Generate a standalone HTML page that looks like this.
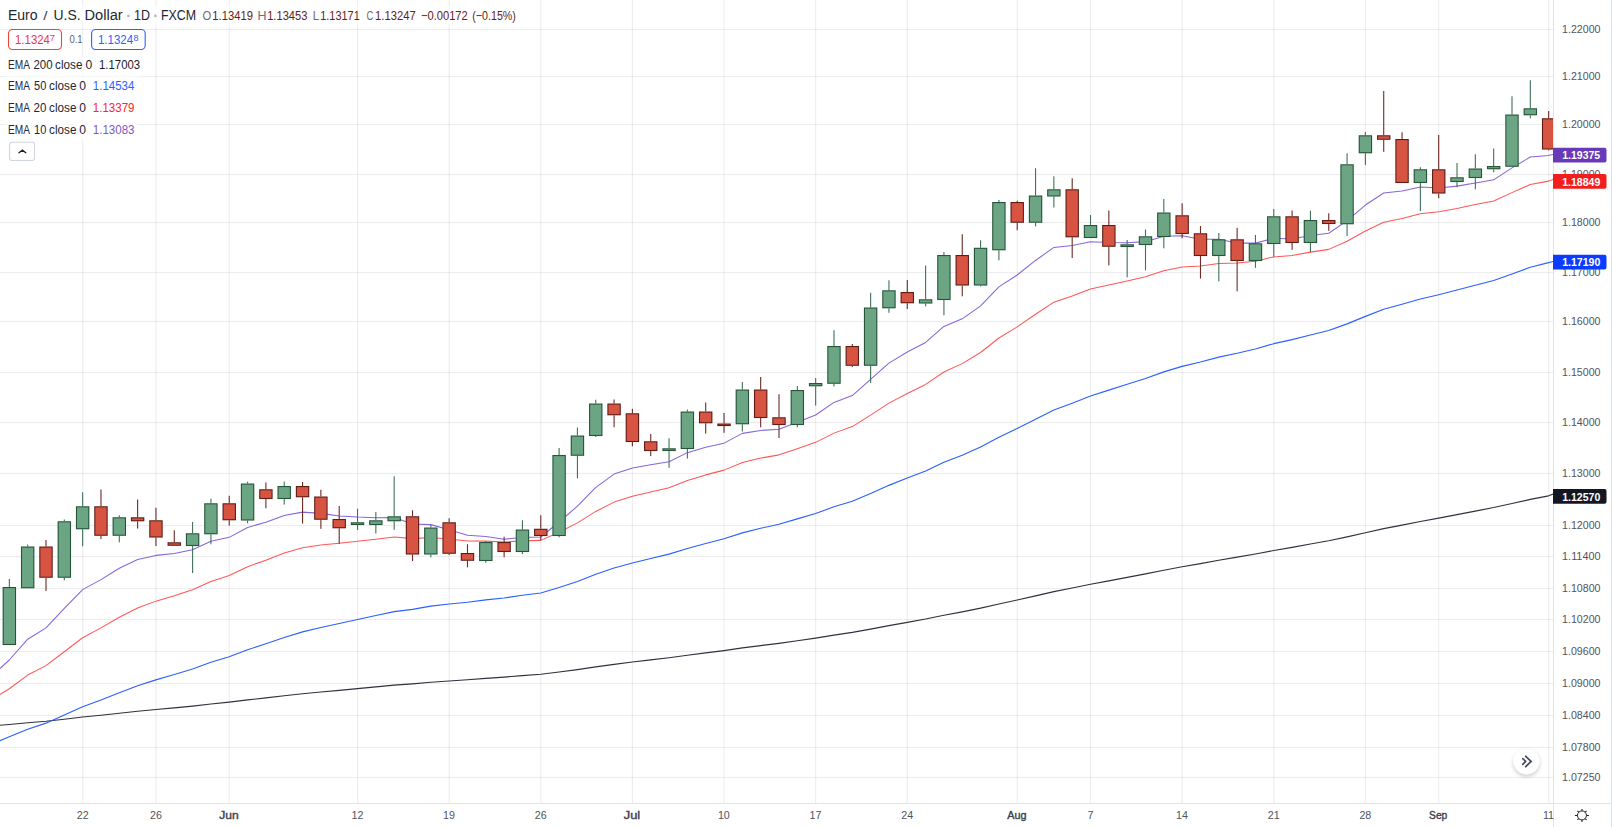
<!DOCTYPE html>
<html lang="en"><head><meta charset="utf-8"><title>Euro / U.S. Dollar</title>
<style>html,body{margin:0;padding:0;background:#fff;overflow:hidden}svg{display:block}text{font-family:"Liberation Sans",sans-serif}</style>
</head><body>
<svg width="1612" height="827" viewBox="0 0 1612 827">
<rect width="1612" height="827" fill="#fff"/>
<g fill="rgba(42,46,67,0.085)">
<rect x="0" y="28.95" width="1553" height="1.1"/>
<rect x="0" y="75.95" width="1553" height="1.1"/>
<rect x="0" y="123.95" width="1553" height="1.1"/>
<rect x="0" y="173.95" width="1553" height="1.1"/>
<rect x="0" y="221.95" width="1553" height="1.1"/>
<rect x="0" y="271.95" width="1553" height="1.1"/>
<rect x="0" y="320.95" width="1553" height="1.1"/>
<rect x="0" y="371.95" width="1553" height="1.1"/>
<rect x="0" y="421.95" width="1553" height="1.1"/>
<rect x="0" y="472.95" width="1553" height="1.1"/>
<rect x="0" y="524.95" width="1553" height="1.1"/>
<rect x="0" y="555.95" width="1553" height="1.1"/>
<rect x="0" y="587.95" width="1553" height="1.1"/>
<rect x="0" y="618.95" width="1553" height="1.1"/>
<rect x="0" y="650.95" width="1553" height="1.1"/>
<rect x="0" y="682.95" width="1553" height="1.1"/>
<rect x="0" y="714.95" width="1553" height="1.1"/>
<rect x="0" y="746.95" width="1553" height="1.1"/>
<rect x="0" y="776.95" width="1553" height="1.1"/>
<rect x="82.10" y="0" width="1.1" height="803"/>
<rect x="155.40" y="0" width="1.1" height="803"/>
<rect x="228.70" y="0" width="1.1" height="803"/>
<rect x="356.98" y="0" width="1.1" height="803"/>
<rect x="448.60" y="0" width="1.1" height="803"/>
<rect x="540.23" y="0" width="1.1" height="803"/>
<rect x="631.85" y="0" width="1.1" height="803"/>
<rect x="723.48" y="0" width="1.1" height="803"/>
<rect x="815.10" y="0" width="1.1" height="803"/>
<rect x="906.73" y="0" width="1.1" height="803"/>
<rect x="1016.68" y="0" width="1.1" height="803"/>
<rect x="1089.97" y="0" width="1.1" height="803"/>
<rect x="1181.60" y="0" width="1.1" height="803"/>
<rect x="1273.22" y="0" width="1.1" height="803"/>
<rect x="1364.85" y="0" width="1.1" height="803"/>
<rect x="1438.15" y="0" width="1.1" height="803"/>
<rect x="1548.10" y="0" width="1.1" height="803"/>
</g>
<defs><clipPath id="cp"><rect x="0" y="0" width="1553" height="803"/></clipPath></defs>
<g clip-path="url(#cp)">
<polyline points="-0.5,725.30 9.3,724.50 27.7,722.70 46.0,721.23 64.3,719.21 82.6,717.05 101.0,715.21 119.3,713.21 137.6,711.26 155.9,709.50 174.3,707.84 192.6,706.07 210.9,704.02 229.2,702.15 247.6,699.94 265.9,697.90 284.2,695.75 302.6,693.73 320.9,691.97 339.2,690.31 357.5,688.61 375.9,686.91 394.2,685.19 412.5,683.87 430.8,682.29 449.1,680.99 467.5,679.77 485.8,678.39 504.1,677.11 522.5,675.62 540.8,674.21 559.1,671.98 577.4,669.58 595.8,666.87 614.1,664.31 632.4,662.05 650.7,659.90 669.0,657.75 687.4,655.25 705.7,652.89 724.0,650.58 742.4,647.92 760.7,645.58 779.0,643.34 797.3,640.76 815.6,638.14 834.0,635.16 852.3,632.41 870.6,629.08 888.9,625.61 907.3,622.31 925.6,619.00 943.9,615.27 962.2,611.88 980.6,608.15 998.9,603.96 1017.2,600.03 1035.5,595.87 1053.9,591.68 1072.2,588.03 1090.5,584.31 1108.8,580.84 1127.2,577.40 1145.5,573.90 1163.8,570.19 1182.1,566.74 1200.5,563.56 1218.8,560.24 1237.1,557.18 1255.4,553.97 1273.8,550.51 1292.1,547.36 1310.4,544.01 1328.7,540.73 1347.1,536.86 1365.4,532.72 1383.7,528.67 1402.0,525.12 1420.4,521.47 1438.7,518.11 1457.0,514.61 1475.3,511.07 1493.7,507.53 1512.0,503.49 1530.3,499.42 1548.6,495.82 1553.5,494.00" fill="none" stroke="#2e323d" stroke-width="1.15" stroke-opacity="1" stroke-linejoin="round"/>
<polyline points="-0.5,740.90 9.3,736.75 27.7,729.17 46.0,723.13 64.3,715.08 82.6,706.74 101.0,699.91 119.3,692.64 137.6,685.79 155.9,679.88 174.3,674.53 192.6,668.92 210.9,662.33 229.2,656.67 247.6,649.78 265.9,643.76 284.2,637.49 302.6,631.90 320.9,627.43 339.2,623.48 357.5,619.47 375.9,615.55 394.2,611.62 412.5,609.34 430.8,606.11 449.1,604.02 467.5,602.29 485.8,599.91 504.1,598.00 522.5,595.29 540.8,592.93 559.1,587.46 577.4,581.42 595.8,574.34 614.1,567.99 632.4,562.97 650.7,558.50 669.0,554.14 687.4,548.48 705.7,543.49 724.0,538.81 742.4,532.88 760.7,528.30 779.0,524.18 797.3,518.86 815.6,513.48 834.0,506.82 852.3,501.19 870.6,493.47 888.9,485.37 907.3,478.08 925.6,470.97 943.9,462.34 962.2,455.28 980.6,447.00 998.9,437.19 1017.2,428.60 1035.5,419.28 1053.9,410.09 1072.2,403.18 1090.5,396.09 1108.8,390.13 1127.2,384.34 1145.5,378.46 1163.8,371.86 1182.1,366.36 1200.5,361.97 1218.8,357.10 1237.1,353.27 1255.4,348.92 1273.8,343.66 1292.1,339.65 1310.4,334.91 1328.7,330.49 1347.1,323.88 1365.4,316.37 1383.7,309.31 1402.0,304.27 1420.4,298.92 1438.7,294.72 1457.0,290.07 1475.3,285.25 1493.7,280.53 1512.0,273.93 1530.3,267.34 1548.6,262.64 1553.5,261.40" fill="none" stroke="#1f57ff" stroke-width="1.1" stroke-opacity="0.95" stroke-linejoin="round"/>
<polyline points="-0.5,694.70 9.3,688.75 27.7,675.05 46.0,665.64 64.3,651.73 82.6,637.72 101.0,627.86 119.3,617.23 137.6,607.95 155.9,601.13 174.3,595.76 192.6,589.78 210.9,581.48 229.2,575.55 247.6,566.72 265.9,560.17 284.2,553.06 302.6,547.65 320.9,544.92 339.2,543.25 357.5,541.25 375.9,539.25 394.2,537.05 412.5,538.64 430.8,537.58 449.1,539.05 467.5,541.04 485.8,541.13 504.1,542.09 522.5,540.89 540.8,540.36 559.1,532.17 577.4,522.90 595.8,511.42 614.1,502.12 632.4,496.29 650.7,491.89 669.0,487.72 687.4,480.42 705.7,474.88 724.0,470.13 742.4,462.41 760.7,458.09 779.0,454.86 797.3,448.65 815.6,442.37 834.0,433.12 852.3,426.60 870.6,415.15 888.9,403.14 907.3,393.48 925.6,384.44 943.9,371.98 962.2,363.62 980.6,352.48 998.9,337.98 1017.2,326.84 1035.5,314.20 1053.9,302.18 1072.2,295.90 1090.5,289.11 1108.8,284.99 1127.2,281.09 1145.5,276.81 1163.8,270.65 1182.1,267.08 1200.5,265.95 1218.8,263.40 1237.1,263.10 1255.4,261.21 1273.8,256.91 1292.1,255.52 1310.4,252.12 1328.7,249.37 1347.1,241.21 1365.4,231.03 1383.7,222.20 1402.0,218.39 1420.4,213.69 1438.7,211.69 1457.0,208.40 1475.3,204.59 1493.7,200.90 1512.0,192.62 1530.3,184.53 1548.6,181.11 1553.5,179.30" fill="none" stroke="#ff3a3a" stroke-width="1.05" stroke-opacity="0.85" stroke-linejoin="round"/>
<polyline points="-0.5,669.00 9.3,660.00 27.7,639.20 46.0,627.84 64.3,608.31 82.6,589.62 101.0,579.65 119.3,568.26 137.6,559.54 155.9,555.39 174.3,553.50 192.6,549.81 210.9,541.32 229.2,537.35 247.6,527.52 265.9,522.19 284.2,515.59 302.6,512.11 320.9,513.37 339.2,515.93 357.5,517.08 375.9,517.66 394.2,517.40 412.5,523.99 430.8,524.63 449.1,529.78 467.5,535.26 485.8,536.49 504.1,539.17 522.5,537.41 540.8,537.02 559.1,522.02 577.4,506.19 595.8,487.38 614.1,474.06 632.4,468.08 650.7,464.84 669.0,461.82 687.4,452.64 705.7,447.15 724.0,443.16 742.4,433.37 760.7,430.43 779.0,429.31 797.3,422.14 815.6,415.00 834.0,402.40 852.3,395.58 870.6,379.47 888.9,363.14 907.3,352.07 925.6,342.43 943.9,326.44 962.2,318.83 980.6,305.84 998.9,286.83 1017.2,274.98 1035.5,260.45 1053.9,247.44 1072.2,245.45 1090.5,241.73 1108.8,242.50 1127.2,242.82 1145.5,241.63 1163.8,236.32 1182.1,235.76 1200.5,239.30 1218.8,239.29 1237.1,243.10 1255.4,243.12 1273.8,238.23 1292.1,238.96 1310.4,235.51 1328.7,233.28 1347.1,220.67 1365.4,205.04 1383.7,192.98 1402.0,191.03 1420.4,187.06 1438.7,188.09 1457.0,186.12 1475.3,182.91 1493.7,179.83 1512.0,167.90 1530.3,157.01 1548.6,155.51 1553.5,154.40" fill="none" stroke="#7d58d6" stroke-width="1.05" stroke-opacity="0.92" stroke-linejoin="round"/>
<rect x="8.80" y="579.00" width="1.1" height="8.00" fill="#41715a"/>
<rect x="2.63" y="587.00" width="13.44" height="58.05" fill="#25563a"/>
<rect x="3.73" y="588.10" width="11.24" height="55.85" fill="#6ba583"/>
<rect x="27.12" y="544.50" width="1.1" height="2.00" fill="#41715a"/>
<rect x="20.95" y="546.50" width="13.44" height="41.80" fill="#25563a"/>
<rect x="22.05" y="547.60" width="11.24" height="39.60" fill="#6ba583"/>
<rect x="45.45" y="540.00" width="1.1" height="6.50" fill="#6f2a25"/>
<rect x="45.45" y="577.80" width="1.1" height="13.25" fill="#6f2a25"/>
<rect x="39.28" y="546.50" width="13.44" height="31.30" fill="#5f1d16"/>
<rect x="40.38" y="547.60" width="11.24" height="29.10" fill="#d75442"/>
<rect x="63.77" y="519.50" width="1.1" height="1.75" fill="#41715a"/>
<rect x="63.77" y="577.80" width="1.1" height="2.50" fill="#41715a"/>
<rect x="57.60" y="521.25" width="13.44" height="56.55" fill="#25563a"/>
<rect x="58.70" y="522.35" width="11.24" height="54.35" fill="#6ba583"/>
<rect x="82.10" y="492.25" width="1.1" height="14.00" fill="#41715a"/>
<rect x="82.10" y="529.30" width="1.1" height="17.00" fill="#41715a"/>
<rect x="75.93" y="506.25" width="13.44" height="23.05" fill="#25563a"/>
<rect x="77.03" y="507.35" width="11.24" height="20.85" fill="#6ba583"/>
<rect x="100.42" y="489.50" width="1.1" height="16.75" fill="#6f2a25"/>
<rect x="100.42" y="535.80" width="1.1" height="3.25" fill="#6f2a25"/>
<rect x="94.25" y="506.25" width="13.44" height="29.55" fill="#5f1d16"/>
<rect x="95.35" y="507.35" width="11.24" height="27.35" fill="#d75442"/>
<rect x="118.75" y="515.25" width="1.1" height="2.00" fill="#41715a"/>
<rect x="118.75" y="535.80" width="1.1" height="6.50" fill="#41715a"/>
<rect x="112.58" y="517.25" width="13.44" height="18.55" fill="#25563a"/>
<rect x="113.68" y="518.35" width="11.24" height="16.35" fill="#6ba583"/>
<rect x="137.07" y="499.50" width="1.1" height="17.75" fill="#6f2a25"/>
<rect x="137.07" y="521.30" width="1.1" height="7.25" fill="#6f2a25"/>
<rect x="130.91" y="517.25" width="13.44" height="4.05" fill="#5f1d16"/>
<rect x="132.00" y="518.35" width="11.24" height="1.85" fill="#d75442"/>
<rect x="155.40" y="507.75" width="1.1" height="12.50" fill="#6f2a25"/>
<rect x="155.40" y="537.55" width="1.1" height="8.50" fill="#6f2a25"/>
<rect x="149.23" y="520.25" width="13.44" height="17.30" fill="#5f1d16"/>
<rect x="150.33" y="521.35" width="11.24" height="15.10" fill="#d75442"/>
<rect x="173.72" y="530.25" width="1.1" height="12.00" fill="#6f2a25"/>
<rect x="167.55" y="542.25" width="13.44" height="3.55" fill="#5f1d16"/>
<rect x="168.65" y="543.35" width="11.24" height="1.35" fill="#d75442"/>
<rect x="192.05" y="522.00" width="1.1" height="11.25" fill="#41715a"/>
<rect x="192.05" y="546.05" width="1.1" height="27.00" fill="#41715a"/>
<rect x="185.88" y="533.25" width="13.44" height="12.80" fill="#25563a"/>
<rect x="186.98" y="534.35" width="11.24" height="10.60" fill="#6ba583"/>
<rect x="210.37" y="498.75" width="1.1" height="4.50" fill="#41715a"/>
<rect x="210.37" y="534.30" width="1.1" height="10.00" fill="#41715a"/>
<rect x="204.20" y="503.25" width="13.44" height="31.05" fill="#25563a"/>
<rect x="205.30" y="504.35" width="11.24" height="28.85" fill="#6ba583"/>
<rect x="228.70" y="495.75" width="1.1" height="7.50" fill="#6f2a25"/>
<rect x="228.70" y="520.30" width="1.1" height="5.25" fill="#6f2a25"/>
<rect x="222.53" y="503.25" width="13.44" height="17.05" fill="#5f1d16"/>
<rect x="223.63" y="504.35" width="11.24" height="14.85" fill="#d75442"/>
<rect x="247.02" y="481.75" width="1.1" height="1.75" fill="#41715a"/>
<rect x="247.02" y="520.55" width="1.1" height="2.75" fill="#41715a"/>
<rect x="240.85" y="483.50" width="13.44" height="37.05" fill="#25563a"/>
<rect x="241.95" y="484.60" width="11.24" height="34.85" fill="#6ba583"/>
<rect x="265.35" y="482.50" width="1.1" height="6.75" fill="#6f2a25"/>
<rect x="265.35" y="499.05" width="1.1" height="9.25" fill="#6f2a25"/>
<rect x="259.18" y="489.25" width="13.44" height="9.80" fill="#5f1d16"/>
<rect x="260.28" y="490.35" width="11.24" height="7.60" fill="#d75442"/>
<rect x="283.68" y="481.50" width="1.1" height="4.50" fill="#41715a"/>
<rect x="283.68" y="499.05" width="1.1" height="5.50" fill="#41715a"/>
<rect x="277.50" y="486.00" width="13.44" height="13.05" fill="#25563a"/>
<rect x="278.61" y="487.10" width="11.24" height="10.85" fill="#6ba583"/>
<rect x="302.00" y="482.00" width="1.1" height="4.00" fill="#6f2a25"/>
<rect x="302.00" y="497.30" width="1.1" height="26.25" fill="#6f2a25"/>
<rect x="295.83" y="486.00" width="13.44" height="11.30" fill="#5f1d16"/>
<rect x="296.93" y="487.10" width="11.24" height="9.10" fill="#d75442"/>
<rect x="320.32" y="489.75" width="1.1" height="6.75" fill="#6f2a25"/>
<rect x="320.32" y="519.80" width="1.1" height="9.00" fill="#6f2a25"/>
<rect x="314.15" y="496.50" width="13.44" height="23.30" fill="#5f1d16"/>
<rect x="315.25" y="497.60" width="11.24" height="21.10" fill="#d75442"/>
<rect x="338.65" y="506.00" width="1.1" height="13.00" fill="#6f2a25"/>
<rect x="338.65" y="528.30" width="1.1" height="15.50" fill="#6f2a25"/>
<rect x="332.48" y="519.00" width="13.44" height="9.30" fill="#5f1d16"/>
<rect x="333.58" y="520.10" width="11.24" height="7.10" fill="#d75442"/>
<rect x="356.98" y="508.75" width="1.1" height="13.50" fill="#41715a"/>
<rect x="356.98" y="525.05" width="1.1" height="5.00" fill="#41715a"/>
<rect x="350.81" y="522.25" width="13.44" height="2.80" fill="#25563a"/>
<rect x="351.91" y="523.35" width="11.24" height="0.60" fill="#6ba583"/>
<rect x="375.30" y="512.00" width="1.1" height="8.25" fill="#41715a"/>
<rect x="375.30" y="525.05" width="1.1" height="8.50" fill="#41715a"/>
<rect x="369.13" y="520.25" width="13.44" height="4.80" fill="#25563a"/>
<rect x="370.23" y="521.35" width="11.24" height="2.60" fill="#6ba583"/>
<rect x="393.62" y="476.25" width="1.1" height="40.00" fill="#41715a"/>
<rect x="393.62" y="521.30" width="1.1" height="8.50" fill="#41715a"/>
<rect x="387.45" y="516.25" width="13.44" height="5.05" fill="#25563a"/>
<rect x="388.56" y="517.35" width="11.24" height="2.85" fill="#6ba583"/>
<rect x="411.95" y="510.25" width="1.1" height="6.00" fill="#6f2a25"/>
<rect x="411.95" y="554.55" width="1.1" height="6.50" fill="#6f2a25"/>
<rect x="405.78" y="516.25" width="13.44" height="38.30" fill="#5f1d16"/>
<rect x="406.88" y="517.35" width="11.24" height="36.10" fill="#d75442"/>
<rect x="430.27" y="525.00" width="1.1" height="2.50" fill="#41715a"/>
<rect x="430.27" y="554.55" width="1.1" height="2.75" fill="#41715a"/>
<rect x="424.10" y="527.50" width="13.44" height="27.05" fill="#25563a"/>
<rect x="425.20" y="528.60" width="11.24" height="24.85" fill="#6ba583"/>
<rect x="448.60" y="518.25" width="1.1" height="4.00" fill="#6f2a25"/>
<rect x="448.60" y="553.80" width="1.1" height="1.25" fill="#6f2a25"/>
<rect x="442.43" y="522.25" width="13.44" height="31.55" fill="#5f1d16"/>
<rect x="443.53" y="523.35" width="11.24" height="29.35" fill="#d75442"/>
<rect x="466.93" y="544.25" width="1.1" height="8.75" fill="#6f2a25"/>
<rect x="466.93" y="560.80" width="1.1" height="6.50" fill="#6f2a25"/>
<rect x="460.75" y="553.00" width="13.44" height="7.80" fill="#5f1d16"/>
<rect x="461.86" y="554.10" width="11.24" height="5.60" fill="#d75442"/>
<rect x="485.25" y="541.00" width="1.1" height="1.00" fill="#41715a"/>
<rect x="485.25" y="561.05" width="1.1" height="1.75" fill="#41715a"/>
<rect x="479.08" y="542.00" width="13.44" height="19.05" fill="#25563a"/>
<rect x="480.18" y="543.10" width="11.24" height="16.85" fill="#6ba583"/>
<rect x="503.57" y="536.75" width="1.1" height="5.25" fill="#6f2a25"/>
<rect x="503.57" y="552.05" width="1.1" height="5.25" fill="#6f2a25"/>
<rect x="497.40" y="542.00" width="13.44" height="10.05" fill="#5f1d16"/>
<rect x="498.50" y="543.10" width="11.24" height="7.85" fill="#d75442"/>
<rect x="521.90" y="520.25" width="1.1" height="9.25" fill="#41715a"/>
<rect x="521.90" y="552.05" width="1.1" height="2.00" fill="#41715a"/>
<rect x="515.73" y="529.50" width="13.44" height="22.55" fill="#25563a"/>
<rect x="516.83" y="530.60" width="11.24" height="20.35" fill="#6ba583"/>
<rect x="540.23" y="515.25" width="1.1" height="13.50" fill="#6f2a25"/>
<rect x="540.23" y="536.05" width="1.1" height="4.25" fill="#6f2a25"/>
<rect x="534.05" y="528.75" width="13.44" height="7.30" fill="#5f1d16"/>
<rect x="535.15" y="529.85" width="11.24" height="5.10" fill="#d75442"/>
<rect x="558.55" y="448.00" width="1.1" height="7.00" fill="#41715a"/>
<rect x="558.55" y="536.05" width="1.1" height="1.25" fill="#41715a"/>
<rect x="552.38" y="455.00" width="13.44" height="81.05" fill="#25563a"/>
<rect x="553.48" y="456.10" width="11.24" height="78.85" fill="#6ba583"/>
<rect x="576.88" y="427.50" width="1.1" height="8.00" fill="#41715a"/>
<rect x="576.88" y="455.80" width="1.1" height="22.50" fill="#41715a"/>
<rect x="570.70" y="435.50" width="13.44" height="20.30" fill="#25563a"/>
<rect x="571.80" y="436.60" width="11.24" height="18.10" fill="#6ba583"/>
<rect x="595.20" y="399.75" width="1.1" height="3.75" fill="#41715a"/>
<rect x="595.20" y="436.05" width="1.1" height="1.00" fill="#41715a"/>
<rect x="589.03" y="403.50" width="13.44" height="32.55" fill="#25563a"/>
<rect x="590.13" y="404.60" width="11.24" height="30.35" fill="#6ba583"/>
<rect x="613.53" y="399.50" width="1.1" height="4.00" fill="#6f2a25"/>
<rect x="613.53" y="415.30" width="1.1" height="12.00" fill="#6f2a25"/>
<rect x="607.36" y="403.50" width="13.44" height="11.80" fill="#5f1d16"/>
<rect x="608.46" y="404.60" width="11.24" height="9.60" fill="#d75442"/>
<rect x="631.85" y="408.75" width="1.1" height="4.50" fill="#6f2a25"/>
<rect x="631.85" y="442.05" width="1.1" height="4.25" fill="#6f2a25"/>
<rect x="625.68" y="413.25" width="13.44" height="28.80" fill="#5f1d16"/>
<rect x="626.78" y="414.35" width="11.24" height="26.60" fill="#d75442"/>
<rect x="650.18" y="434.00" width="1.1" height="7.25" fill="#6f2a25"/>
<rect x="650.18" y="451.05" width="1.1" height="5.00" fill="#6f2a25"/>
<rect x="644.00" y="441.25" width="13.44" height="9.80" fill="#5f1d16"/>
<rect x="645.11" y="442.35" width="11.24" height="7.60" fill="#d75442"/>
<rect x="668.50" y="438.25" width="1.1" height="10.00" fill="#41715a"/>
<rect x="668.50" y="451.05" width="1.1" height="16.75" fill="#41715a"/>
<rect x="662.33" y="448.25" width="13.44" height="2.80" fill="#25563a"/>
<rect x="663.43" y="449.35" width="11.24" height="0.60" fill="#6ba583"/>
<rect x="686.83" y="409.50" width="1.1" height="2.00" fill="#41715a"/>
<rect x="686.83" y="449.05" width="1.1" height="9.50" fill="#41715a"/>
<rect x="680.65" y="411.50" width="13.44" height="37.55" fill="#25563a"/>
<rect x="681.75" y="412.60" width="11.24" height="35.35" fill="#6ba583"/>
<rect x="705.15" y="402.50" width="1.1" height="9.00" fill="#6f2a25"/>
<rect x="705.15" y="423.30" width="1.1" height="10.25" fill="#6f2a25"/>
<rect x="698.98" y="411.50" width="13.44" height="11.80" fill="#5f1d16"/>
<rect x="700.08" y="412.60" width="11.24" height="9.60" fill="#d75442"/>
<rect x="723.48" y="413.00" width="1.1" height="10.50" fill="#6f2a25"/>
<rect x="723.48" y="426.10" width="1.1" height="6.70" fill="#6f2a25"/>
<rect x="717.30" y="423.50" width="13.44" height="2.60" fill="#5f1d16"/>
<rect x="718.40" y="424.60" width="11.24" height="0.40" fill="#d75442"/>
<rect x="741.80" y="382.00" width="1.1" height="7.50" fill="#41715a"/>
<rect x="741.80" y="424.30" width="1.1" height="7.25" fill="#41715a"/>
<rect x="735.63" y="389.50" width="13.44" height="34.80" fill="#25563a"/>
<rect x="736.73" y="390.60" width="11.24" height="32.60" fill="#6ba583"/>
<rect x="760.12" y="377.00" width="1.1" height="12.50" fill="#6f2a25"/>
<rect x="760.12" y="418.05" width="1.1" height="9.25" fill="#6f2a25"/>
<rect x="753.95" y="389.50" width="13.44" height="28.55" fill="#5f1d16"/>
<rect x="755.05" y="390.60" width="11.24" height="26.35" fill="#d75442"/>
<rect x="778.45" y="394.25" width="1.1" height="23.00" fill="#6f2a25"/>
<rect x="778.45" y="425.05" width="1.1" height="13.00" fill="#6f2a25"/>
<rect x="772.28" y="417.25" width="13.44" height="7.80" fill="#5f1d16"/>
<rect x="773.38" y="418.35" width="11.24" height="5.60" fill="#d75442"/>
<rect x="796.78" y="386.00" width="1.1" height="4.00" fill="#41715a"/>
<rect x="796.78" y="425.05" width="1.1" height="2.25" fill="#41715a"/>
<rect x="790.61" y="390.00" width="13.44" height="35.05" fill="#25563a"/>
<rect x="791.71" y="391.10" width="11.24" height="32.85" fill="#6ba583"/>
<rect x="815.10" y="378.00" width="1.1" height="5.00" fill="#41715a"/>
<rect x="815.10" y="386.30" width="1.1" height="19.25" fill="#41715a"/>
<rect x="808.93" y="383.00" width="13.44" height="3.30" fill="#25563a"/>
<rect x="810.03" y="384.10" width="11.24" height="1.10" fill="#6ba583"/>
<rect x="833.43" y="330.25" width="1.1" height="15.75" fill="#41715a"/>
<rect x="833.43" y="383.80" width="1.1" height="2.75" fill="#41715a"/>
<rect x="827.25" y="346.00" width="13.44" height="37.80" fill="#25563a"/>
<rect x="828.36" y="347.10" width="11.24" height="35.60" fill="#6ba583"/>
<rect x="851.75" y="344.00" width="1.1" height="2.00" fill="#6f2a25"/>
<rect x="851.75" y="365.80" width="1.1" height="1.25" fill="#6f2a25"/>
<rect x="845.58" y="346.00" width="13.44" height="19.80" fill="#5f1d16"/>
<rect x="846.68" y="347.10" width="11.24" height="17.60" fill="#d75442"/>
<rect x="870.08" y="292.75" width="1.1" height="14.75" fill="#41715a"/>
<rect x="870.08" y="365.80" width="1.1" height="17.25" fill="#41715a"/>
<rect x="863.90" y="307.50" width="13.44" height="58.30" fill="#25563a"/>
<rect x="865.00" y="308.60" width="11.24" height="56.10" fill="#6ba583"/>
<rect x="888.40" y="280.25" width="1.1" height="10.00" fill="#41715a"/>
<rect x="888.40" y="308.30" width="1.1" height="4.50" fill="#41715a"/>
<rect x="882.23" y="290.25" width="13.44" height="18.05" fill="#25563a"/>
<rect x="883.33" y="291.35" width="11.24" height="15.85" fill="#6ba583"/>
<rect x="906.73" y="280.00" width="1.1" height="12.00" fill="#6f2a25"/>
<rect x="906.73" y="303.30" width="1.1" height="5.75" fill="#6f2a25"/>
<rect x="900.55" y="292.00" width="13.44" height="11.30" fill="#5f1d16"/>
<rect x="901.65" y="293.10" width="11.24" height="9.10" fill="#d75442"/>
<rect x="925.05" y="265.50" width="1.1" height="33.75" fill="#41715a"/>
<rect x="925.05" y="303.55" width="1.1" height="2.75" fill="#41715a"/>
<rect x="918.88" y="299.25" width="13.44" height="4.30" fill="#25563a"/>
<rect x="919.98" y="300.35" width="11.24" height="2.10" fill="#6ba583"/>
<rect x="943.38" y="252.00" width="1.1" height="3.00" fill="#41715a"/>
<rect x="943.38" y="300.05" width="1.1" height="15.25" fill="#41715a"/>
<rect x="937.20" y="255.00" width="13.44" height="45.05" fill="#25563a"/>
<rect x="938.30" y="256.10" width="11.24" height="42.85" fill="#6ba583"/>
<rect x="961.70" y="234.25" width="1.1" height="20.75" fill="#6f2a25"/>
<rect x="961.70" y="285.55" width="1.1" height="10.75" fill="#6f2a25"/>
<rect x="955.53" y="255.00" width="13.44" height="30.55" fill="#5f1d16"/>
<rect x="956.63" y="256.10" width="11.24" height="28.35" fill="#d75442"/>
<rect x="980.02" y="240.25" width="1.1" height="7.50" fill="#41715a"/>
<rect x="980.02" y="285.55" width="1.1" height="1.00" fill="#41715a"/>
<rect x="973.85" y="247.75" width="13.44" height="37.80" fill="#25563a"/>
<rect x="974.95" y="248.85" width="11.24" height="35.60" fill="#6ba583"/>
<rect x="998.35" y="200.00" width="1.1" height="2.00" fill="#41715a"/>
<rect x="998.35" y="250.30" width="1.1" height="10.00" fill="#41715a"/>
<rect x="992.18" y="202.00" width="13.44" height="48.30" fill="#25563a"/>
<rect x="993.28" y="203.10" width="11.24" height="46.10" fill="#6ba583"/>
<rect x="1016.68" y="200.75" width="1.1" height="1.25" fill="#6f2a25"/>
<rect x="1016.68" y="222.80" width="1.1" height="7.50" fill="#6f2a25"/>
<rect x="1010.50" y="202.00" width="13.44" height="20.80" fill="#5f1d16"/>
<rect x="1011.61" y="203.10" width="11.24" height="18.60" fill="#d75442"/>
<rect x="1035.00" y="168.25" width="1.1" height="27.25" fill="#41715a"/>
<rect x="1035.00" y="222.80" width="1.1" height="3.50" fill="#41715a"/>
<rect x="1028.83" y="195.50" width="13.44" height="27.30" fill="#25563a"/>
<rect x="1029.93" y="196.60" width="11.24" height="25.10" fill="#6ba583"/>
<rect x="1053.32" y="176.25" width="1.1" height="13.00" fill="#41715a"/>
<rect x="1053.32" y="196.55" width="1.1" height="11.00" fill="#41715a"/>
<rect x="1047.15" y="189.25" width="13.44" height="7.30" fill="#25563a"/>
<rect x="1048.25" y="190.35" width="11.24" height="5.10" fill="#6ba583"/>
<rect x="1071.65" y="178.25" width="1.1" height="11.00" fill="#6f2a25"/>
<rect x="1071.65" y="237.30" width="1.1" height="20.75" fill="#6f2a25"/>
<rect x="1065.48" y="189.25" width="13.44" height="48.05" fill="#5f1d16"/>
<rect x="1066.58" y="190.35" width="11.24" height="45.85" fill="#d75442"/>
<rect x="1089.97" y="215.00" width="1.1" height="10.00" fill="#41715a"/>
<rect x="1083.80" y="225.00" width="13.44" height="13.05" fill="#25563a"/>
<rect x="1084.90" y="226.10" width="11.24" height="10.85" fill="#6ba583"/>
<rect x="1108.30" y="210.50" width="1.1" height="14.50" fill="#6f2a25"/>
<rect x="1108.30" y="246.80" width="1.1" height="18.50" fill="#6f2a25"/>
<rect x="1102.13" y="225.00" width="13.44" height="21.80" fill="#5f1d16"/>
<rect x="1103.23" y="226.10" width="11.24" height="19.60" fill="#d75442"/>
<rect x="1126.62" y="240.00" width="1.1" height="4.25" fill="#41715a"/>
<rect x="1126.62" y="247.05" width="1.1" height="30.25" fill="#41715a"/>
<rect x="1120.45" y="244.25" width="13.44" height="2.80" fill="#25563a"/>
<rect x="1121.55" y="245.35" width="11.24" height="0.60" fill="#6ba583"/>
<rect x="1144.95" y="229.50" width="1.1" height="6.75" fill="#41715a"/>
<rect x="1144.95" y="245.05" width="1.1" height="25.25" fill="#41715a"/>
<rect x="1138.78" y="236.25" width="13.44" height="8.80" fill="#25563a"/>
<rect x="1139.88" y="237.35" width="11.24" height="6.60" fill="#6ba583"/>
<rect x="1163.27" y="199.00" width="1.1" height="13.50" fill="#41715a"/>
<rect x="1163.27" y="237.05" width="1.1" height="11.25" fill="#41715a"/>
<rect x="1157.10" y="212.50" width="13.44" height="24.55" fill="#25563a"/>
<rect x="1158.20" y="213.60" width="11.24" height="22.35" fill="#6ba583"/>
<rect x="1181.60" y="203.25" width="1.1" height="12.00" fill="#6f2a25"/>
<rect x="1181.60" y="234.05" width="1.1" height="4.25" fill="#6f2a25"/>
<rect x="1175.43" y="215.25" width="13.44" height="18.80" fill="#5f1d16"/>
<rect x="1176.53" y="216.35" width="11.24" height="16.60" fill="#d75442"/>
<rect x="1199.92" y="226.00" width="1.1" height="7.25" fill="#6f2a25"/>
<rect x="1199.92" y="256.05" width="1.1" height="22.50" fill="#6f2a25"/>
<rect x="1193.75" y="233.25" width="13.44" height="22.80" fill="#5f1d16"/>
<rect x="1194.85" y="234.35" width="11.24" height="20.60" fill="#d75442"/>
<rect x="1218.25" y="233.00" width="1.1" height="6.25" fill="#41715a"/>
<rect x="1218.25" y="256.05" width="1.1" height="25.25" fill="#41715a"/>
<rect x="1212.08" y="239.25" width="13.44" height="16.80" fill="#25563a"/>
<rect x="1213.18" y="240.35" width="11.24" height="14.60" fill="#6ba583"/>
<rect x="1236.57" y="227.75" width="1.1" height="11.50" fill="#6f2a25"/>
<rect x="1236.57" y="261.05" width="1.1" height="30.25" fill="#6f2a25"/>
<rect x="1230.40" y="239.25" width="13.44" height="21.80" fill="#5f1d16"/>
<rect x="1231.50" y="240.35" width="11.24" height="19.60" fill="#d75442"/>
<rect x="1254.90" y="235.00" width="1.1" height="8.25" fill="#41715a"/>
<rect x="1254.90" y="261.05" width="1.1" height="6.75" fill="#41715a"/>
<rect x="1248.73" y="243.25" width="13.44" height="17.80" fill="#25563a"/>
<rect x="1249.83" y="244.35" width="11.24" height="15.60" fill="#6ba583"/>
<rect x="1273.22" y="209.00" width="1.1" height="7.25" fill="#41715a"/>
<rect x="1273.22" y="244.05" width="1.1" height="12.75" fill="#41715a"/>
<rect x="1267.05" y="216.25" width="13.44" height="27.80" fill="#25563a"/>
<rect x="1268.15" y="217.35" width="11.24" height="25.60" fill="#6ba583"/>
<rect x="1291.55" y="210.50" width="1.1" height="5.75" fill="#6f2a25"/>
<rect x="1291.55" y="243.05" width="1.1" height="6.75" fill="#6f2a25"/>
<rect x="1285.38" y="216.25" width="13.44" height="26.80" fill="#5f1d16"/>
<rect x="1286.48" y="217.35" width="11.24" height="24.60" fill="#d75442"/>
<rect x="1309.88" y="210.75" width="1.1" height="9.25" fill="#41715a"/>
<rect x="1309.88" y="243.05" width="1.1" height="9.00" fill="#41715a"/>
<rect x="1303.70" y="220.00" width="13.44" height="23.05" fill="#25563a"/>
<rect x="1304.80" y="221.10" width="11.24" height="20.85" fill="#6ba583"/>
<rect x="1328.20" y="213.25" width="1.1" height="6.75" fill="#6f2a25"/>
<rect x="1328.20" y="224.05" width="1.1" height="6.75" fill="#6f2a25"/>
<rect x="1322.03" y="220.00" width="13.44" height="4.05" fill="#5f1d16"/>
<rect x="1323.13" y="221.10" width="11.24" height="1.85" fill="#d75442"/>
<rect x="1346.52" y="153.25" width="1.1" height="11.00" fill="#41715a"/>
<rect x="1346.52" y="224.30" width="1.1" height="11.75" fill="#41715a"/>
<rect x="1340.35" y="164.25" width="13.44" height="60.05" fill="#25563a"/>
<rect x="1341.45" y="165.35" width="11.24" height="57.85" fill="#6ba583"/>
<rect x="1364.85" y="132.00" width="1.1" height="3.25" fill="#41715a"/>
<rect x="1364.85" y="153.30" width="1.1" height="11.75" fill="#41715a"/>
<rect x="1358.68" y="135.25" width="13.44" height="18.05" fill="#25563a"/>
<rect x="1359.78" y="136.35" width="11.24" height="15.85" fill="#6ba583"/>
<rect x="1383.17" y="91.00" width="1.1" height="44.25" fill="#6f2a25"/>
<rect x="1383.17" y="139.80" width="1.1" height="12.00" fill="#6f2a25"/>
<rect x="1377.00" y="135.25" width="13.44" height="4.55" fill="#5f1d16"/>
<rect x="1378.10" y="136.35" width="11.24" height="2.35" fill="#d75442"/>
<rect x="1401.50" y="132.25" width="1.1" height="6.75" fill="#6f2a25"/>
<rect x="1395.33" y="139.00" width="13.44" height="44.05" fill="#5f1d16"/>
<rect x="1396.43" y="140.10" width="11.24" height="41.85" fill="#d75442"/>
<rect x="1419.82" y="167.25" width="1.1" height="2.00" fill="#41715a"/>
<rect x="1419.82" y="183.05" width="1.1" height="28.00" fill="#41715a"/>
<rect x="1413.65" y="169.25" width="13.44" height="13.80" fill="#25563a"/>
<rect x="1414.75" y="170.35" width="11.24" height="11.60" fill="#6ba583"/>
<rect x="1438.15" y="135.00" width="1.1" height="34.25" fill="#6f2a25"/>
<rect x="1438.15" y="193.55" width="1.1" height="4.75" fill="#6f2a25"/>
<rect x="1431.98" y="169.25" width="13.44" height="24.30" fill="#5f1d16"/>
<rect x="1433.08" y="170.35" width="11.24" height="22.10" fill="#d75442"/>
<rect x="1456.47" y="163.00" width="1.1" height="14.25" fill="#41715a"/>
<rect x="1456.47" y="182.05" width="1.1" height="5.25" fill="#41715a"/>
<rect x="1450.30" y="177.25" width="13.44" height="4.80" fill="#25563a"/>
<rect x="1451.40" y="178.35" width="11.24" height="2.60" fill="#6ba583"/>
<rect x="1474.80" y="154.25" width="1.1" height="14.25" fill="#41715a"/>
<rect x="1474.80" y="178.05" width="1.1" height="11.25" fill="#41715a"/>
<rect x="1468.63" y="168.50" width="13.44" height="9.55" fill="#25563a"/>
<rect x="1469.73" y="169.60" width="11.24" height="7.35" fill="#6ba583"/>
<rect x="1493.12" y="148.50" width="1.1" height="17.50" fill="#41715a"/>
<rect x="1493.12" y="169.30" width="1.1" height="3.00" fill="#41715a"/>
<rect x="1486.95" y="166.00" width="13.44" height="3.30" fill="#25563a"/>
<rect x="1488.05" y="167.10" width="11.24" height="1.10" fill="#6ba583"/>
<rect x="1511.45" y="96.25" width="1.1" height="18.25" fill="#41715a"/>
<rect x="1505.28" y="114.50" width="13.44" height="52.30" fill="#25563a"/>
<rect x="1506.38" y="115.60" width="11.24" height="50.10" fill="#6ba583"/>
<rect x="1529.77" y="80.25" width="1.1" height="28.00" fill="#41715a"/>
<rect x="1529.77" y="115.30" width="1.1" height="3.00" fill="#41715a"/>
<rect x="1523.60" y="108.25" width="13.44" height="7.05" fill="#25563a"/>
<rect x="1524.70" y="109.35" width="11.24" height="4.85" fill="#6ba583"/>
<rect x="1548.10" y="111.00" width="1.1" height="7.25" fill="#6f2a25"/>
<rect x="1548.10" y="149.55" width="1.1" height="1.00" fill="#6f2a25"/>
<rect x="1541.93" y="118.25" width="13.44" height="31.30" fill="#5f1d16"/>
<rect x="1543.03" y="119.35" width="11.24" height="29.10" fill="#d75442"/>
</g>
<g shape-rendering="crispEdges" fill="#e0e3eb"><rect x="1553" y="0" width="1" height="827"/><rect x="0" y="803" width="1612" height="1"/><rect x="1611" y="0" width="1" height="827"/></g>
<text x="1562.10" y="33.10" font-size="11.6" fill="#50535e" textLength="38.42" lengthAdjust="spacingAndGlyphs">1.22000</text>
<text x="1562.10" y="80.10" font-size="11.6" fill="#50535e" textLength="38.42" lengthAdjust="spacingAndGlyphs">1.21000</text>
<text x="1562.10" y="128.10" font-size="11.6" fill="#50535e" textLength="38.42" lengthAdjust="spacingAndGlyphs">1.20000</text>
<text x="1562.10" y="178.10" font-size="11.6" fill="#50535e" textLength="38.42" lengthAdjust="spacingAndGlyphs">1.19000</text>
<text x="1562.10" y="226.10" font-size="11.6" fill="#50535e" textLength="38.42" lengthAdjust="spacingAndGlyphs">1.18000</text>
<text x="1562.10" y="276.10" font-size="11.6" fill="#50535e" textLength="38.42" lengthAdjust="spacingAndGlyphs">1.17000</text>
<text x="1562.10" y="325.10" font-size="11.6" fill="#50535e" textLength="38.42" lengthAdjust="spacingAndGlyphs">1.16000</text>
<text x="1562.10" y="376.10" font-size="11.6" fill="#50535e" textLength="38.42" lengthAdjust="spacingAndGlyphs">1.15000</text>
<text x="1562.10" y="426.10" font-size="11.6" fill="#50535e" textLength="38.42" lengthAdjust="spacingAndGlyphs">1.14000</text>
<text x="1562.10" y="477.10" font-size="11.6" fill="#50535e" textLength="38.42" lengthAdjust="spacingAndGlyphs">1.13000</text>
<text x="1562.10" y="529.10" font-size="11.6" fill="#50535e" textLength="38.42" lengthAdjust="spacingAndGlyphs">1.12000</text>
<text x="1562.09" y="560.10" font-size="11.6" fill="#50535e" textLength="38.43" lengthAdjust="spacingAndGlyphs">1.11400</text>
<text x="1562.10" y="592.10" font-size="11.6" fill="#50535e" textLength="38.42" lengthAdjust="spacingAndGlyphs">1.10800</text>
<text x="1562.10" y="623.10" font-size="11.6" fill="#50535e" textLength="38.42" lengthAdjust="spacingAndGlyphs">1.10200</text>
<text x="1562.10" y="655.10" font-size="11.6" fill="#50535e" textLength="38.42" lengthAdjust="spacingAndGlyphs">1.09600</text>
<text x="1562.10" y="687.10" font-size="11.6" fill="#50535e" textLength="38.42" lengthAdjust="spacingAndGlyphs">1.09000</text>
<text x="1562.10" y="719.10" font-size="11.6" fill="#50535e" textLength="38.42" lengthAdjust="spacingAndGlyphs">1.08400</text>
<text x="1562.10" y="751.10" font-size="11.6" fill="#50535e" textLength="38.42" lengthAdjust="spacingAndGlyphs">1.07800</text>
<text x="1562.10" y="781.10" font-size="11.6" fill="#50535e" textLength="38.42" lengthAdjust="spacingAndGlyphs">1.07250</text>
<path d="M1553,147.8h51.5a2,2 0 0 1 2,2v10.8a2,2 0 0 1 -2,2h-51.5z" fill="#673ab7"/>
<text x="1562.24" y="159.35" font-size="11.2" fill="#fff" font-weight="bold" textLength="37.94" lengthAdjust="spacingAndGlyphs">1.19375</text>
<path d="M1553,174.0h51.5a2,2 0 0 1 2,2v10.8a2,2 0 0 1 -2,2h-51.5z" fill="#f21e1e"/>
<text x="1562.24" y="185.55" font-size="11.2" fill="#fff" font-weight="bold" textLength="38.05" lengthAdjust="spacingAndGlyphs">1.18849</text>
<path d="M1553,254.8h51.5a2,2 0 0 1 2,2v10.8a2,2 0 0 1 -2,2h-51.5z" fill="#0a3cff"/>
<text x="1562.24" y="266.35" font-size="11.2" fill="#fff" font-weight="bold" textLength="38.08" lengthAdjust="spacingAndGlyphs">1.17190</text>
<path d="M1553,489.0h51.5a2,2 0 0 1 2,2v10.8a2,2 0 0 1 -2,2h-51.5z" fill="#131722"/>
<text x="1562.24" y="500.50" font-size="11.2" fill="#fff" font-weight="bold" textLength="38.08" lengthAdjust="spacingAndGlyphs">1.12570</text>
<text x="76.70" y="819.00" font-size="11.5" fill="#50535e" textLength="11.90" lengthAdjust="spacingAndGlyphs">22</text>
<text x="149.97" y="819.00" font-size="11.5" fill="#50535e" textLength="11.90" lengthAdjust="spacingAndGlyphs">26</text>
<text x="219.17" y="819.00" font-size="11.5" fill="#3c404b" textLength="19.46" lengthAdjust="spacingAndGlyphs" stroke="#3c404b" stroke-width="0.4">Jun</text>
<text x="351.44" y="819.00" font-size="11.5" fill="#50535e" textLength="11.90" lengthAdjust="spacingAndGlyphs">12</text>
<text x="443.05" y="819.00" font-size="11.5" fill="#50535e" textLength="11.90" lengthAdjust="spacingAndGlyphs">19</text>
<text x="534.80" y="819.00" font-size="11.5" fill="#50535e" textLength="11.90" lengthAdjust="spacingAndGlyphs">26</text>
<text x="623.86" y="819.00" font-size="11.5" fill="#3c404b" textLength="16.33" lengthAdjust="spacingAndGlyphs" stroke="#3c404b" stroke-width="0.4">Jul</text>
<text x="717.89" y="819.00" font-size="11.5" fill="#50535e" textLength="11.90" lengthAdjust="spacingAndGlyphs">10</text>
<text x="809.57" y="819.00" font-size="11.5" fill="#50535e" textLength="11.90" lengthAdjust="spacingAndGlyphs">17</text>
<text x="901.22" y="819.00" font-size="11.5" fill="#50535e" textLength="11.90" lengthAdjust="spacingAndGlyphs">24</text>
<text x="1007.35" y="819.00" font-size="11.5" fill="#3c404b" textLength="19.30" lengthAdjust="spacingAndGlyphs" stroke="#3c404b" stroke-width="0.4">Aug</text>
<text x="1087.54" y="819.00" font-size="11.5" fill="#50535e" textLength="5.95" lengthAdjust="spacingAndGlyphs">7</text>
<text x="1175.96" y="819.00" font-size="11.5" fill="#50535e" textLength="11.90" lengthAdjust="spacingAndGlyphs">14</text>
<text x="1267.83" y="819.00" font-size="11.5" fill="#50535e" textLength="11.90" lengthAdjust="spacingAndGlyphs">21</text>
<text x="1359.41" y="819.00" font-size="11.5" fill="#50535e" textLength="11.90" lengthAdjust="spacingAndGlyphs">28</text>
<text x="1429.09" y="819.00" font-size="11.5" fill="#3c404b" textLength="18.19" lengthAdjust="spacingAndGlyphs" stroke="#3c404b" stroke-width="0.4">Sep</text>
<text x="1542.95" y="819.00" font-size="11.5" fill="#50535e" textLength="11.10" lengthAdjust="spacingAndGlyphs">11</text>
<g fill="#fff" fill-opacity="0.7">
<rect x="5" y="6" width="514" height="19"/>
<rect x="5" y="55.5" width="138" height="21"/>
<rect x="5" y="76.5" width="133" height="21.5"/>
<rect x="5" y="98" width="133" height="21.8"/>
<rect x="5" y="119.8" width="133" height="21.5"/>
</g>
<text x="7.91" y="19.85" font-size="14" fill="#232733" textLength="29.66" lengthAdjust="spacingAndGlyphs">Euro</text>
<text x="43.30" y="19.85" font-size="13.5" fill="#3a3e4a" textLength="4.27" lengthAdjust="spacingAndGlyphs">/</text>
<text x="53.46" y="19.85" font-size="14" fill="#232733" textLength="27.10" lengthAdjust="spacingAndGlyphs">U.S.</text>
<text x="84.53" y="19.85" font-size="14" fill="#232733" textLength="38.18" lengthAdjust="spacingAndGlyphs">Dollar</text>
<circle cx="128.4" cy="15.9" r="1.3" fill="#b2b5be"/>
<text x="133.96" y="19.85" font-size="14" fill="#232733" textLength="15.94" lengthAdjust="spacingAndGlyphs">1D</text>
<circle cx="155.4" cy="15.9" r="1.3" fill="#b2b5be"/>
<text x="161.01" y="19.85" font-size="14" fill="#232733" textLength="35.09" lengthAdjust="spacingAndGlyphs">FXCM</text>
<text x="202.49" y="19.87" font-size="12.5" fill="#6a6d78" textLength="8.74" lengthAdjust="spacingAndGlyphs">O</text>
<text x="212.26" y="19.87" font-size="12.5" fill="#64211a" textLength="40.68" lengthAdjust="spacingAndGlyphs">1.13419</text>
<text x="257.50" y="19.87" font-size="12.5" fill="#6a6d78" textLength="8.99" lengthAdjust="spacingAndGlyphs">H</text>
<text x="267.17" y="19.87" font-size="12.5" fill="#64211a" textLength="40.23" lengthAdjust="spacingAndGlyphs">1.13453</text>
<text x="312.70" y="19.87" font-size="12.5" fill="#6a6d78" textLength="6.25" lengthAdjust="spacingAndGlyphs">L</text>
<text x="320.28" y="19.87" font-size="12.5" fill="#64211a" textLength="39.46" lengthAdjust="spacingAndGlyphs">1.13171</text>
<text x="366.43" y="19.87" font-size="12.5" fill="#6a6d78" textLength="6.82" lengthAdjust="spacingAndGlyphs">C</text>
<text x="375.06" y="19.87" font-size="12.5" fill="#64211a" textLength="40.60" lengthAdjust="spacingAndGlyphs">1.13247</text>
<text x="420.97" y="19.87" font-size="12.5" fill="#64211a" textLength="46.77" lengthAdjust="spacingAndGlyphs">−0.00172</text>
<text x="472.26" y="19.87" font-size="12.5" fill="#64211a" textLength="43.69" lengthAdjust="spacingAndGlyphs">(−0.15%)</text>
<rect x="8.5" y="29.5" width="53" height="20" rx="4" ry="4" fill="#fff" stroke="#f44336" stroke-width="1.1"/>
<text x="15.04" y="43.87" font-size="12" fill="#f23645" textLength="34.88" lengthAdjust="spacingAndGlyphs">1.1324</text>
<text x="49.83" y="41.40" font-size="9" fill="#f23645" textLength="5.23" lengthAdjust="spacingAndGlyphs">7</text>
<text x="69.44" y="43.00" font-size="10" fill="#5d606b" textLength="13.21" lengthAdjust="spacingAndGlyphs">0.1</text>
<rect x="91.6" y="29.5" width="53.6" height="20" rx="4" ry="4" fill="#fff" stroke="#2962ff" stroke-width="1.1"/>
<text x="97.90" y="43.87" font-size="12" fill="#2962ff" textLength="35.23" lengthAdjust="spacingAndGlyphs">1.1324</text>
<text x="133.62" y="41.40" font-size="9" fill="#2962ff" textLength="4.94" lengthAdjust="spacingAndGlyphs">8</text>
<text x="8.12" y="69.00" font-size="12.5" fill="#232733" textLength="21.90" lengthAdjust="spacingAndGlyphs">EMA</text>
<text x="33.43" y="69.00" font-size="12.5" fill="#232733" textLength="19.11" lengthAdjust="spacingAndGlyphs">200</text>
<text x="55.10" y="69.00" font-size="12.5" fill="#232733" textLength="27.32" lengthAdjust="spacingAndGlyphs">close</text>
<text x="85.55" y="69.00" font-size="12.5" fill="#232733" textLength="6.72" lengthAdjust="spacingAndGlyphs">0</text>
<text x="99.05" y="69.00" font-size="12.5" fill="#1c202b" textLength="41.06" lengthAdjust="spacingAndGlyphs">1.17003</text>
<text x="8.12" y="90.00" font-size="12.5" fill="#232733" textLength="21.90" lengthAdjust="spacingAndGlyphs">EMA</text>
<text x="34.06" y="90.00" font-size="12.5" fill="#232733" textLength="12.28" lengthAdjust="spacingAndGlyphs">50</text>
<text x="49.10" y="90.00" font-size="12.5" fill="#232733" textLength="27.32" lengthAdjust="spacingAndGlyphs">close</text>
<text x="79.35" y="90.00" font-size="12.5" fill="#232733" textLength="6.72" lengthAdjust="spacingAndGlyphs">0</text>
<text x="92.84" y="90.00" font-size="12.5" fill="#2962ff" textLength="41.50" lengthAdjust="spacingAndGlyphs">1.14534</text>
<text x="8.12" y="112.00" font-size="12.5" fill="#232733" textLength="21.90" lengthAdjust="spacingAndGlyphs">EMA</text>
<text x="33.52" y="112.00" font-size="12.5" fill="#232733" textLength="12.84" lengthAdjust="spacingAndGlyphs">20</text>
<text x="49.10" y="112.00" font-size="12.5" fill="#232733" textLength="27.32" lengthAdjust="spacingAndGlyphs">close</text>
<text x="79.35" y="112.00" font-size="12.5" fill="#232733" textLength="6.72" lengthAdjust="spacingAndGlyphs">0</text>
<text x="92.83" y="112.00" font-size="12.5" fill="#f5282f" textLength="41.71" lengthAdjust="spacingAndGlyphs">1.13379</text>
<text x="8.12" y="133.80" font-size="12.5" fill="#232733" textLength="21.90" lengthAdjust="spacingAndGlyphs">EMA</text>
<text x="34.07" y="133.80" font-size="12.5" fill="#232733" textLength="12.27" lengthAdjust="spacingAndGlyphs">10</text>
<text x="49.10" y="133.80" font-size="12.5" fill="#232733" textLength="27.32" lengthAdjust="spacingAndGlyphs">close</text>
<text x="79.35" y="133.80" font-size="12.5" fill="#232733" textLength="6.72" lengthAdjust="spacingAndGlyphs">0</text>
<text x="92.84" y="133.80" font-size="12.5" fill="#7e57c2" textLength="41.68" lengthAdjust="spacingAndGlyphs">1.13083</text>
<rect x="9.6" y="142.3" width="24.9" height="18.2" rx="2.5" ry="2.5" fill="#fff" stroke="#d1d4e1" stroke-width="1.1"/>
<path d="M18.95,152.75 L22.4,150.15 L25.8,152.75" fill="none" stroke="#1c202b" stroke-width="1.25" stroke-linecap="round" stroke-linejoin="miter"/>
<defs><filter id="sh" x="-50%" y="-50%" width="200%" height="200%"><feGaussianBlur in="SourceAlpha" stdDeviation="2"/><feOffset dx="0" dy="1.6"/><feComponentTransfer><feFuncA type="linear" slope="0.22"/></feComponentTransfer><feMerge><feMergeNode/><feMergeNode in="SourceGraphic"/></feMerge></filter></defs>
<circle cx="1526.5" cy="761.3" r="12.9" fill="#fff" filter="url(#sh)"/>
<path d="M1522.8,758.7 L1525.7,761.4 L1522.8,764.3" fill="none" stroke="#474b5d" stroke-width="1.7" stroke-linecap="round" stroke-linejoin="round"/>
<path d="M1525.7,756.3 L1531.1,761.4 L1525.7,766.7" fill="none" stroke="#474b5d" stroke-width="1.8" stroke-linecap="round" stroke-linejoin="miter"/>
<circle cx="1581.96" cy="815.4" r="4.5" fill="none" stroke="#1c202b" stroke-width="1.0"/>
<path d="M1586.56,815.40L1588.96,815.40M1585.21,818.65L1586.56,820.00M1581.96,820.00L1581.96,821.90M1578.71,818.65L1577.36,820.00M1577.36,815.40L1574.96,815.40M1578.71,812.15L1577.36,810.80M1581.96,810.80L1581.96,808.90M1585.21,812.15L1586.56,810.80" stroke="#1c202b" stroke-width="1.05" fill="none"/>
</svg></body></html>
